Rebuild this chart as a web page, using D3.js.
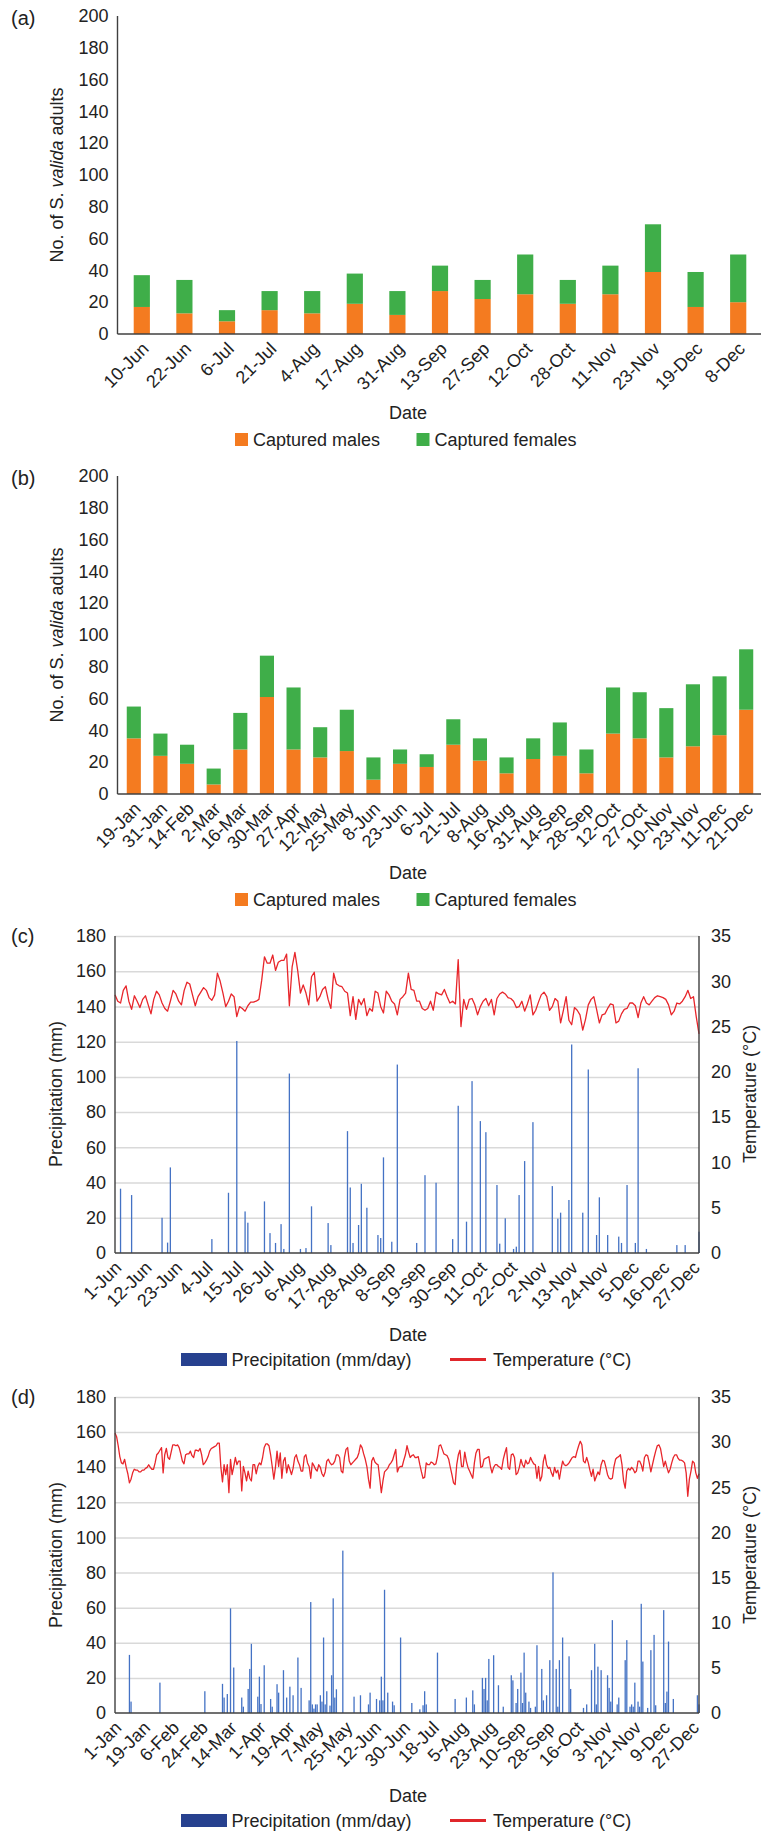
<!DOCTYPE html>
<html>
<head>
<meta charset="utf-8">
<script src="https://cdn.jsdelivr.net/npm/d3@7"></script>
<style>
	body { margin: 0; background: #fff; }
	text { font-family: "Liberation Sans", Arial, sans-serif; fill: #222; }
</style>
</head>
<body>
<div id="chart"></div>
<script>
// (a) first season catches
let aDates = ["10-Jun", "22-Jun", "6-Jul", "21-Jul", "4-Aug", "17-Aug", "31-Aug", "13-Sep", "27-Sep", "12-Oct", "28-Oct", "11-Nov", "23-Nov", "19-Dec", "8-Dec"];
let aMales = [17, 13, 8, 15, 13, 19, 12, 27, 22, 25, 19, 25, 39, 17, 20];
let aFemales = [20, 21, 7, 12, 14, 19, 15, 16, 12, 25, 15, 18, 30, 22, 30];

// (b) second season catches
let bDates = ["19-Jan", "31-Jan", "14-Feb", "2-Mar", "16-Mar", "30-Mar", "27-Apr", "12-May", "25-May", "8-Jun", "23-Jun", "6-Jul", "21-Jul", "8-Aug", "16-Aug", "31-Aug", "14-Sep", "28-Sep", "12-Oct", "27-Oct", "10-Nov", "23-Nov", "11-Dec", "21-Dec"];
let bMales = [35, 24, 19, 6, 28, 61, 28, 23, 27, 9, 19, 17, 31, 21, 13, 22, 24, 13, 38, 35, 23, 30, 37, 53];
let bFemales = [20, 14, 12, 10, 23, 26, 39, 19, 26, 14, 9, 8, 16, 14, 10, 13, 21, 15, 29, 29, 31, 39, 37, 38];

// (c) daily weather, 1-Jun onwards (day index)
let cTickLabels = ["1-Jun", "12-Jun", "23-Jun", "4-Jul", "15-Jul", "26-Jul", "6-Aug", "17-Aug", "28-Aug", "8-Sep", "19-sep", "30-Sep", "11-Oct", "22-Oct", "2-Nov", "13-Nov", "24-Nov", "5-Dec", "16-Dec", "27-Dec"];
let cRainDay = [2, 6, 17, 19, 20, 35, 41, 44, 47, 48, 54, 56, 58, 60, 61, 63, 67, 69, 71, 77, 78, 84, 85, 86, 88, 89, 91, 95, 96, 97, 100, 102, 109, 112, 116, 122, 124, 127, 129, 132, 134, 138, 139, 141, 144, 145, 146, 148, 151, 158, 160, 161, 164, 165, 169, 171, 174, 175, 178, 182, 183, 185, 188, 189, 192, 203, 206, 211];
let cRainMm = [36.5, 32.9, 20, 5.9, 48.6, 7.9, 34.2, 120.4, 23.6, 17.2, 29.3, 11.3, 5.7, 16.4, 2.3, 101.9, 2.3, 2.8, 26.5, 17, 4.5, 69.2, 37.2, 5.7, 15.9, 39.3, 25.7, 10.2, 8.5, 54.3, 6.4, 107, 5.7, 44.2, 39.9, 7.9, 83.6, 17.8, 97.6, 74.9, 68.6, 38.6, 5.3, 19.7, 2.3, 3.6, 32.9, 52.2, 74.3, 38, 19.5, 22.9, 30.1, 118.4, 22.9, 104.2, 10.2, 31.6, 10.2, 9.3, 5.7, 38.6, 5.7, 104.9, 2.3, 4.5, 4.5, 12.1];
let cTemp = [
	28.5, 27.8, 27.6, 29.0, 29.5, 27.8, 26.9, 28.4, 27.8, 27.1,
	28.0, 28.4, 27.4, 26.4, 28.0, 28.9, 28.5, 27.6, 27.0, 26.7,
	27.8, 29.0, 28.6, 27.8, 27.4, 29.0, 29.9, 29.7, 28.5, 27.3,
	28.3, 28.8, 29.3, 29.0, 28.2, 27.9, 28.5, 30.9, 30.0, 28.7,
	27.2, 27.8, 28.6, 28.3, 26.1, 27.2, 27.0, 26.7, 27.3, 27.7,
	27.7, 27.8, 28.0, 30.1, 32.7, 32.0, 32.0, 32.9, 31.2, 32.1,
	32.3, 32.3, 33.0, 27.3, 31.6, 33.2, 31.2, 28.7, 29.6, 28.7,
	27.4, 30.5, 31.0, 27.8, 28.3, 29.1, 29.4, 28.0, 27.0, 30.9,
	29.7, 29.5, 29.4, 28.9, 28.7, 26.2, 28.3, 25.8, 28.0, 27.4,
	28.1, 26.2, 27.0, 26.7, 28.9, 28.7, 27.2, 26.5, 28.9, 28.5,
	27.8, 27.5, 26.3, 28.0, 28.3, 28.7, 30.9, 29.1, 29.0, 27.8,
	27.8, 27.0, 26.8, 27.0, 27.8, 26.8, 28.8, 28.6, 28.5, 29.1,
	28.3, 27.6, 27.8, 27.5, 32.4, 25.0, 28.0, 26.9, 28.0, 28.1,
	27.4, 26.3, 27.2, 27.8, 28.1, 27.3, 28.0, 26.3, 28.1, 28.6,
	28.8, 28.6, 28.2, 28.1, 27.8, 27.1, 27.2, 27.8, 26.7, 27.5,
	28.5, 26.3, 26.8, 27.7, 28.5, 28.8, 28.3, 26.8, 27.2, 28.1,
	27.8, 25.4, 26.8, 28.3, 25.7, 25.2, 27.1, 26.8, 26.3, 24.6,
	25.8, 27.4, 28.0, 28.3, 26.9, 25.4, 26.3, 26.4, 27.0, 27.5,
	27.4, 25.4, 25.6, 26.4, 26.9, 27.0, 27.6, 27.6, 27.3, 26.0,
	27.6, 28.3, 27.6, 27.4, 27.8, 28.2, 28.4, 28.3, 28.2, 28.0,
	27.4, 26.3, 26.7, 27.6, 27.5, 27.8, 28.3, 29.0, 28.1, 28.3,
	26.1, 24.2
];

// (d) daily weather, 1-Jan onwards (day index)
let dTickLabels = ["1-Jan", "19-Jan", "6-Feb", "24-Feb", "14-Mar", "1-Apr", "19-Apr", "7-May", "25-May", "12-Jun", "30-Jun", "18-Jul", "5-Aug", "23-Aug", "10-Sep", "28-Sep", "16-Oct", "3-Nov", "21-Nov", "9-Dec", "27-Dec"];
let dRainDay = [
	9, 10, 28, 56, 67, 68, 70, 72, 74, 79,
	80, 83, 84, 85, 89, 90, 91, 93, 97, 98,
	101, 102, 105, 107, 109, 111, 114, 116, 121, 122,
	123, 124, 125, 126, 128, 129, 130, 131, 132, 134,
	135, 136, 137, 138, 142, 149, 153, 158, 159, 163,
	165, 166, 167, 168, 170, 173, 174, 178, 185, 190,
	192, 193, 194, 201, 212, 219, 223, 224, 229, 230,
	231, 232, 233, 236, 239, 242, 247, 248, 250, 251,
	253, 254, 255, 256, 258, 259, 262, 263, 266, 267,
	269, 271, 273, 275, 276, 277, 279, 283, 284, 292,
	294, 297, 299, 300, 301, 303, 307, 308, 309, 310,
	313, 314, 318, 319, 321, 322, 323, 324, 326, 327,
	328, 329, 332, 334, 336, 337, 342, 343, 344, 345,
	348, 363, 364
];
let dRainMm = [
	33.1, 6.5, 17.3, 12.4, 16.6, 8.8, 10.8, 59.6, 25.9, 8.8,
	3.6, 13.7, 25.1, 39.4, 9.3, 20.7, 5.1, 27.2, 8, 3.6,
	16.4, 11.6, 24.4, 8.8, 15, 10.1, 31.6, 14.3, 7.2, 63.2,
	4.9, 2.5, 4.9, 4.9, 10.1, 6.5, 43, 4.9, 12.4, 4.2,
	21.5, 65.3, 8.8, 13.5, 92.5, 9.3, 10.1, 4.9, 11.6, 8,
	7.2, 20.7, 7.2, 70.2, 11.6, 6.5, 4.4, 43, 5.7, 2.1,
	4.4, 12.4, 4.9, 34.4, 8, 8.8, 12.9, 4.9, 20, 13.7,
	20, 7.2, 30.8, 32.9, 15.8, 3.6, 21.5, 18.6, 5.7, 13.7,
	23, 5.7, 34.4, 11.6, 6.5, 2.9, 3.6, 38.6, 25.1, 7.2,
	10.1, 30.1, 80.1, 25.1, 3.6, 30.1, 43, 32.3, 13.7, 2.9,
	4.9, 24.4, 39.4, 4.9, 26.4, 24.4, 21.5, 14.3, 6.5, 52.9,
	4.9, 8.8, 30.1, 41.5, 3.6, 4.9, 3.6, 17.3, 6.5, 3.6,
	62.2, 29.3, 2.9, 35.8, 44.5, 4.4, 58.6, 5.7, 12.2, 40.7,
	8, 10.1, 4.9
];
let dTemp = [
	31.0, 30.6, 29.6, 28.4, 27.7, 27.6, 28.1, 27.2, 26.5, 25.5,
	25.9, 26.6, 27.0, 26.9, 26.9, 26.7, 26.7, 26.9, 26.9, 27.1,
	27.2, 27.5, 27.2, 27.0, 27.0, 27.7, 28.6, 28.8, 29.1, 29.4,
	26.6, 28.6, 29.3, 28.3, 28.1, 28.9, 29.7, 29.7, 29.6, 29.7,
	29.4, 28.7, 27.9, 27.6, 28.6, 28.7, 28.7, 29.0, 28.5, 28.3,
	29.1, 29.1, 29.0, 29.3, 28.6, 27.5, 27.7, 28.0, 28.4, 29.0,
	29.3, 29.4, 29.5, 29.6, 29.9, 29.9, 27.2, 25.6, 27.5, 26.4,
	27.5, 24.4, 28.1, 26.4, 27.3, 28.3, 27.5, 27.9, 27.9, 24.6,
	27.3, 26.6, 25.7, 26.8, 26.0, 25.7, 27.5, 27.5, 26.5, 27.3,
	27.7, 27.5, 28.3, 29.4, 29.8, 29.8, 29.6, 28.6, 27.3, 25.9,
	27.2, 29.0, 27.3, 28.8, 26.0, 27.9, 28.3, 26.6, 27.5, 27.0,
	26.4, 27.1, 28.3, 28.6, 27.9, 27.5, 26.8, 26.8, 28.4, 28.6,
	27.7, 27.3, 26.0, 27.7, 27.4, 27.0, 26.8, 27.5, 27.2, 26.5,
	26.2, 26.7, 27.9, 28.1, 27.7, 27.5, 27.6, 27.9, 28.6, 28.6,
	28.3, 26.8, 26.6, 28.3, 29.2, 29.4, 27.9, 27.5, 27.7, 27.9,
	28.1, 28.3, 28.8, 29.7, 29.4, 28.7, 28.1, 27.3, 25.9, 24.9,
	27.9, 28.3, 27.8, 27.6, 27.5, 26.0, 24.4, 25.7, 26.7, 26.9,
	27.1, 27.5, 27.7, 28.0, 28.6, 29.2, 26.7, 27.2, 27.3, 27.3,
	28.0, 28.6, 29.6, 28.9, 28.3, 28.5, 28.6, 28.3, 28.3, 28.4,
	27.5, 26.7, 26.0, 26.1, 27.7, 27.5, 27.5, 27.8, 27.7, 27.5,
	27.6, 28.4, 29.6, 29.7, 29.2, 28.7, 28.6, 28.5, 28.1, 27.2,
	26.4, 25.5, 25.3, 27.5, 28.6, 29.1, 27.3, 27.3, 28.9, 27.9,
	27.2, 26.8, 26.4, 26.0, 27.7, 28.8, 29.2, 29.2, 27.2, 27.3,
	28.1, 28.2, 28.3, 28.4, 27.3, 26.6, 27.2, 27.5, 27.5, 27.3,
	27.2, 27.0, 28.1, 28.8, 29.4, 27.2, 27.0, 28.6, 28.7, 28.3,
	26.4, 26.6, 27.2, 28.1, 27.5, 27.2, 28.0, 27.6, 27.7, 28.3,
	27.9, 27.6, 27.5, 26.0, 27.3, 25.7, 26.2, 27.9, 28.6, 27.5,
	27.1, 27.2, 26.6, 26.2, 27.2, 26.6, 26.9, 25.9, 27.0, 27.9,
	27.5, 27.4, 27.5, 27.7, 28.0, 28.3, 28.4, 28.3, 29.0, 29.6,
	30.1, 29.7, 27.9, 27.7, 28.3, 27.7, 26.9, 26.2, 27.0, 25.7,
	26.2, 26.7, 26.4, 27.5, 28.0, 27.9, 27.2, 26.4, 26.0, 25.9,
	26.0, 27.3, 28.1, 28.3, 28.4, 28.6, 27.5, 25.7, 24.9, 26.8,
	27.1, 26.9, 27.2, 27.0, 26.6, 26.8, 27.9, 27.9, 27.5, 26.8,
	28.3, 28.6, 28.5, 27.7, 26.7, 27.5, 28.3, 29.0, 29.6, 29.7,
	29.3, 28.3, 27.3, 27.9, 27.2, 26.6, 27.0, 27.7, 28.3, 28.6,
	28.6, 28.2, 28.0, 28.0, 27.9, 27.7, 26.6, 24.0, 25.9, 26.8,
	27.9, 27.7, 26.6, 26.0, 26.5
];

let countTicks = d3.range(0, 201, 20);
let rainTicks = d3.range(0, 181, 20);
let tempTicks = d3.range(0, 36, 5);

let W = 761, H = 1832;
let fs = "18px";
let axisColor = "#404040";

let svg = d3.select("#chart").append("svg").attr("width", W).attr("height", H);

let styleText = (g) => g.selectAll("text").attr("font-size", fs).attr("fill", "#222")
	.attr("font-family", '"Liberation Sans", Arial, sans-serif');

// stacked bar panels (a) and (b)
let barPanel = ({ oy, tag, dates, males, females, pad }) => {
	let g = svg.append("g").attr("transform", `translate(0,${oy})`);
	let left = 117.5, right = 761, top = 16, bottom = 334;

	let x = d3.scaleBand().domain(dates).range([120.5, 759.5]).paddingInner(pad).paddingOuter(pad / 2);
	let y = d3.scaleLinear().domain([0, 200]).range([bottom, top]);

	let rows = dates.map((d, i) => ({ date: d, m: males[i], f: females[i] }));

	g.append("g").selectAll("rect.m").data(rows).join("rect")
		.attr("x", (d) => x(d.date)).attr("width", x.bandwidth())
		.attr("y", (d) => y(d.m)).attr("height", (d) => y(0) - y(d.m))
		.attr("fill", "#f47b20");
	g.append("g").selectAll("rect.f").data(rows).join("rect")
		.attr("x", (d) => x(d.date)).attr("width", x.bandwidth())
		.attr("y", (d) => y(d.m + d.f)).attr("height", (d) => y(d.m) - y(d.m + d.f))
		.attr("fill", "#3fae49");

	g.append("g")
		.attr("transform", `translate(${left},0)`)
		.call(d3.axisLeft(y).tickValues(countTicks).tickSize(0).tickPadding(9))
		.call((a) => a.select(".domain").remove())
		.call(styleText);

	g.append("g")
		.attr("transform", `translate(0,${bottom})`)
		.call(d3.axisBottom(x).tickSize(0))
		.call((a) => a.select(".domain").remove())
		.call(styleText)
		.call((a) => a.selectAll("text")
			.attr("x", 0).attr("y", 0).attr("dy", 0)
			.attr("text-anchor", "end")
			.attr("transform", "translate(8,16) rotate(-45)"));

	// axis lines
	g.append("line").attr("x1", left).attr("x2", left).attr("y1", top).attr("y2", bottom)
		.attr("stroke", axisColor).attr("stroke-width", 1.4);
	g.append("line").attr("x1", left).attr("x2", right).attr("y1", bottom).attr("y2", bottom)
		.attr("stroke", axisColor).attr("stroke-width", 1.4);

	g.append("text").attr("x", 11).attr("y", 24.5).attr("font-size", "20px").text(tag);

	let yt = g.append("text").attr("transform", "translate(63,175) rotate(-90)")
		.attr("text-anchor", "middle").attr("font-size", fs);
	yt.append("tspan").text("No. of S. ");
	yt.append("tspan").attr("font-style", "italic").text("valida");
	yt.append("tspan").text(" adults");

	g.append("text").attr("x", 408).attr("y", 419).attr("text-anchor", "middle")
		.attr("font-size", fs).text("Date");

	let leg = [
		{ x: 235, color: "#f47b20", label: "Captured males" },
		{ x: 416.5, color: "#3fae49", label: "Captured females" },
	];
	leg.forEach((l) => {
		g.append("rect").attr("x", l.x).attr("y", 433).attr("width", 13).attr("height", 13).attr("fill", l.color);
		g.append("text").attr("x", l.x + 18).attr("y", 446).attr("font-size", fs).text(l.label);
	});
};

// precipitation + temperature panels (c) and (d)
let weatherPanel = ({ top, bottom, tag, n, every, labels, rainDay, rainMm, temp }) => {
	let g = svg.append("g");
	let left = 115, right = 699;

	let x = d3.scalePoint().domain(d3.range(n)).range([left, right]);
	let yL = d3.scaleLinear().domain([0, 180]).range([bottom, top]);
	let yR = d3.scaleLinear().domain([0, 35]).range([bottom, top]);

	// gridlines
	g.append("g")
		.attr("transform", `translate(${left},0)`)
		.call(d3.axisLeft(yL).tickValues(rainTicks.slice(1)).tickSize(-(right - left)).tickFormat(""))
		.call((a) => a.select(".domain").remove())
		.call((a) => a.selectAll("line").attr("stroke", "#d9d9d9").attr("stroke-width", 1.5));

	let rain = rainDay.map((d, i) => ({ day: d, mm: rainMm[i] }));
	g.append("g").selectAll("rect").data(rain).join("rect")
		.attr("x", (d) => x(d.day) - 0.65).attr("width", 1.3)
		.attr("y", (d) => yL(d.mm)).attr("height", (d) => yL(0) - yL(d.mm))
		.attr("fill", "#4472c4");

	let line = d3.line().x((d, i) => x(i)).y((d) => yR(d));
	g.append("path").attr("d", line(temp))
		.attr("fill", "none").attr("stroke", "#e8262b").attr("stroke-width", 1.3)
		.attr("stroke-linejoin", "round");

	g.append("g")
		.attr("transform", `translate(${left},0)`)
		.call(d3.axisLeft(yL).tickValues(rainTicks).tickSize(0).tickPadding(9))
		.call((a) => a.select(".domain").remove())
		.call(styleText);

	g.append("g")
		.attr("transform", `translate(${right},0)`)
		.call(d3.axisRight(yR).tickValues(tempTicks).tickSize(0).tickPadding(12))
		.call((a) => a.select(".domain").remove())
		.call(styleText);

	g.append("g")
		.attr("transform", `translate(0,${bottom})`)
		.call(d3.axisBottom(x).tickValues(d3.range(0, n, every)).tickSize(0)
			.tickFormat((d) => labels[d / every]))
		.call((a) => a.select(".domain").remove())
		.call(styleText)
		.call((a) => a.selectAll("text")
			.attr("x", 0).attr("y", 0).attr("dy", 0)
			.attr("text-anchor", "end")
			.attr("transform", "translate(7,16) rotate(-45)"));

	[left, right].forEach((ax) => {
		g.append("line").attr("x1", ax).attr("x2", ax).attr("y1", top).attr("y2", bottom)
			.attr("stroke", axisColor).attr("stroke-width", 1.4);
	});
	g.append("line").attr("x1", left).attr("x2", right).attr("y1", bottom).attr("y2", bottom)
		.attr("stroke", axisColor).attr("stroke-width", 1.4);

	g.append("text").attr("x", 11).attr("y", top + 7).attr("font-size", "20px").text(tag);

	g.append("text").attr("transform", `translate(62,${top + 158}) rotate(-90)`)
		.attr("text-anchor", "middle").attr("font-size", fs).text("Precipitation (mm)");
	g.append("text").attr("transform", `translate(756,${top + 158}) rotate(-90)`)
		.attr("text-anchor", "middle").attr("font-size", fs).text("Temperature (°C)");

	g.append("text").attr("x", 408).attr("y", top + 405).attr("text-anchor", "middle")
		.attr("font-size", fs).text("Date");

	// legend
	let ly = top + 430;
	g.append("rect").attr("x", 181).attr("y", ly - 13).attr("width", 46).attr("height", 13).attr("fill", "#27418f");
	g.append("text").attr("x", 231.5).attr("y", ly).attr("font-size", fs).text("Precipitation (mm/day)");
	g.append("line").attr("x1", 450).attr("x2", 486).attr("y1", ly - 6.5).attr("y2", ly - 6.5)
		.attr("stroke", "#e0262b").attr("stroke-width", 3);
	g.append("text").attr("x", 493).attr("y", ly).attr("font-size", fs).text("Temperature (°C)");
};

barPanel({ oy: 0, tag: "(a)", dates: aDates, males: aMales, females: aFemales, pad: 0.62 });
barPanel({ oy: 460, tag: "(b)", dates: bDates, males: bMales, females: bFemales, pad: 0.47 });
weatherPanel({ top: 936, bottom: 1253, tag: "(c)", n: cTemp.length, every: 11, labels: cTickLabels, rainDay: cRainDay, rainMm: cRainMm, temp: cTemp });
weatherPanel({ top: 1397, bottom: 1713, tag: "(d)", n: dTemp.length, every: 18, labels: dTickLabels, rainDay: dRainDay, rainMm: dRainMm, temp: dTemp });
</script>
</body>
</html>
